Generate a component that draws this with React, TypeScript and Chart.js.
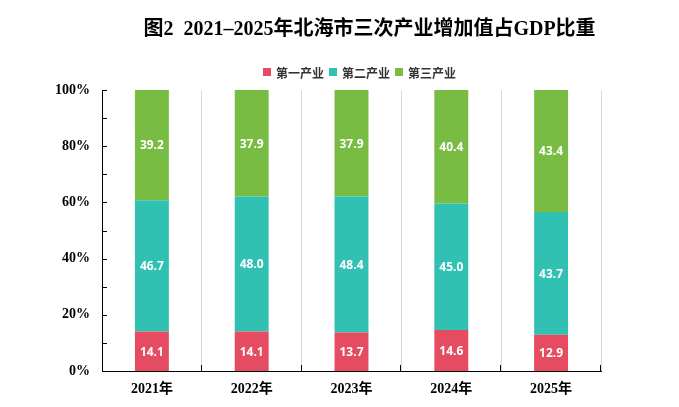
import React, { useEffect, useRef } from "react";
import { Chart, registerables } from "chart.js";

Chart.register(...registerables);

const categories = ["2021年", "2022年", "2023年", "2024年", "2025年"];
const seriesNames = ["第一产业", "第二产业", "第三产业"];
const primaryValues = [14.1, 14.1, 13.7, 14.6, 12.9];
const secondaryValues = [46.7, 48.0, 48.4, 45.0, 43.7];
const tertiaryValues = [39.2, 37.9, 37.9, 40.4, 43.4];
const seriesColors = ["#E64C61", "#30C1B3", "#78BC43"];
const titleText = "图2  2021–2025年北海市三次产业增加值占GDP比重";

const SERIF = "'Liberation Serif', 'Times New Roman', 'Noto Sans CJK SC', serif";
const CJK = "'Noto Sans CJK SC', 'Noto Sans', sans-serif";
const LABEL_FONT = "'Open Sans', 'Noto Sans', sans-serif";

const decorPlugin = {
  id: "decor",
  afterDatasetsDraw(chart: any) {
    const ctx = chart.ctx;
    ctx.save();
    ctx.fillStyle = "#ffffff";
    ctx.font = `bold 12px ${LABEL_FONT}`;
    ctx.textAlign = "center";
    ctx.textBaseline = "middle";
    chart.data.datasets.forEach((ds: any, di: number) => {
      const meta = chart.getDatasetMeta(di);
      meta.data.forEach((el: any, i: number) => {
        const v = ds.data[i];
        const y = (el.y + el.base) / 2;
        ctx.fillText(Number(v).toFixed(1), el.x, y + 1);
      });
    });
    ctx.restore();
  },
  afterDraw(chart: any) {
    const ctx = chart.ctx;
    const area = chart.chartArea;
    const xs = chart.scales.x;
    const ys = chart.scales.y;
    ctx.save();
    // inside tick marks
    ctx.strokeStyle = "#000";
    ctx.lineWidth = 1;
    ctx.beginPath();
    for (let v = 0; v <= 100; v += 10) {
      const py = Math.round(ys.getPixelForValue(v)) + 0.5;
      ctx.moveTo(area.left, py);
      ctx.lineTo(area.left + 5, py);
    }
    const n = chart.data.labels.length;
    for (let i = 1; i <= n; i++) {
      const px = Math.round(xs.left + (i * xs.width) / n) - 0.5;
      ctx.moveTo(px, area.bottom);
      ctx.lineTo(px, area.bottom - 6);
    }
    ctx.stroke();

    // title
    ctx.fillStyle = "#000";
    ctx.font = `bold 20px ${SERIF}`;
    ctx.textAlign = "center";
    ctx.textBaseline = "middle";
    ctx.fillText(titleText, chart.width / 2 + 30, 22);

    // legend
    ctx.font = `bold 12px ${CJK}`;
    const box = 8;
    const gapBox = 5;
    const gapItem = 5;
    const widths = chart.data.datasets.map((d: any) => ctx.measureText(d.label).width);
    let total = 0;
    widths.forEach((w: number, i: number) => {
      total += box + gapBox + w + (i < widths.length - 1 ? gapItem : 0);
    });
    let lx = (area.left + area.right) / 2 + 8 - total / 2;
    const ly = 64;
    ctx.textAlign = "left";
    chart.data.datasets.forEach((d: any, i: number) => {
      ctx.fillStyle = d.backgroundColor;
      ctx.fillRect(lx, ly - box / 2, box, box);
      lx += box + gapBox;
      ctx.fillStyle = "#333333";
      ctx.fillText(d.label, lx, ly + 1);
      lx += widths[i] + gapItem;
    });
    ctx.restore();
  },
};

export default function App() {
  const ref = useRef<HTMLCanvasElement | null>(null);
  useEffect(() => {
    if (!ref.current) return;
    const valuesList = [primaryValues, secondaryValues, tertiaryValues];
    const chart = new Chart(ref.current, {
      type: "bar",
      data: {
        labels: categories,
        datasets: seriesNames.map((name, i) => ({
          label: name,
          data: valuesList[i],
          backgroundColor: seriesColors[i],
          borderWidth: 0,
          barPercentage: 0.34,
          categoryPercentage: 1,
        })),
      },
      options: {
        responsive: true,
        maintainAspectRatio: false,
        animation: false,
        layout: { padding: { top: 82, left: 35, right: 70, bottom: 1 } },
        plugins: {
          legend: { display: false },
          title: { display: false },
          tooltip: { enabled: false },
        },
        scales: {
          x: {
            stacked: true,
            grid: { offset: true, color: "#d9d9d9", drawTicks: false, lineWidth: 1 },
            border: { display: true, color: "#000", width: 1 },
            ticks: { color: "#000", font: { family: SERIF, size: 14, weight: "bold" }, padding: 10 },
            afterFit: (scale: any) => {
              scale.height = 27;
            },
          },
          y: {
            stacked: true,
            min: 0,
            max: 100,
            grid: { display: false, drawTicks: false },
            border: { display: true, color: "#000", width: 1 },
            ticks: {
              stepSize: 10,
              autoSkip: false,
              color: "#000",
              font: { family: SERIF, size: 14, weight: "bold" },
              padding: 12,
              callback: (v: any) => (Number(v) % 20 === 0 ? `${v}%` : ""),
            },
          },
        },
      },
      plugins: [decorPlugin],
    });
    return () => chart.destroy();
  }, []);
  return (
    <div style={{ width: "100%", height: "391px", position: "relative" }}>
      <canvas ref={ref} />
    </div>
  );
}
